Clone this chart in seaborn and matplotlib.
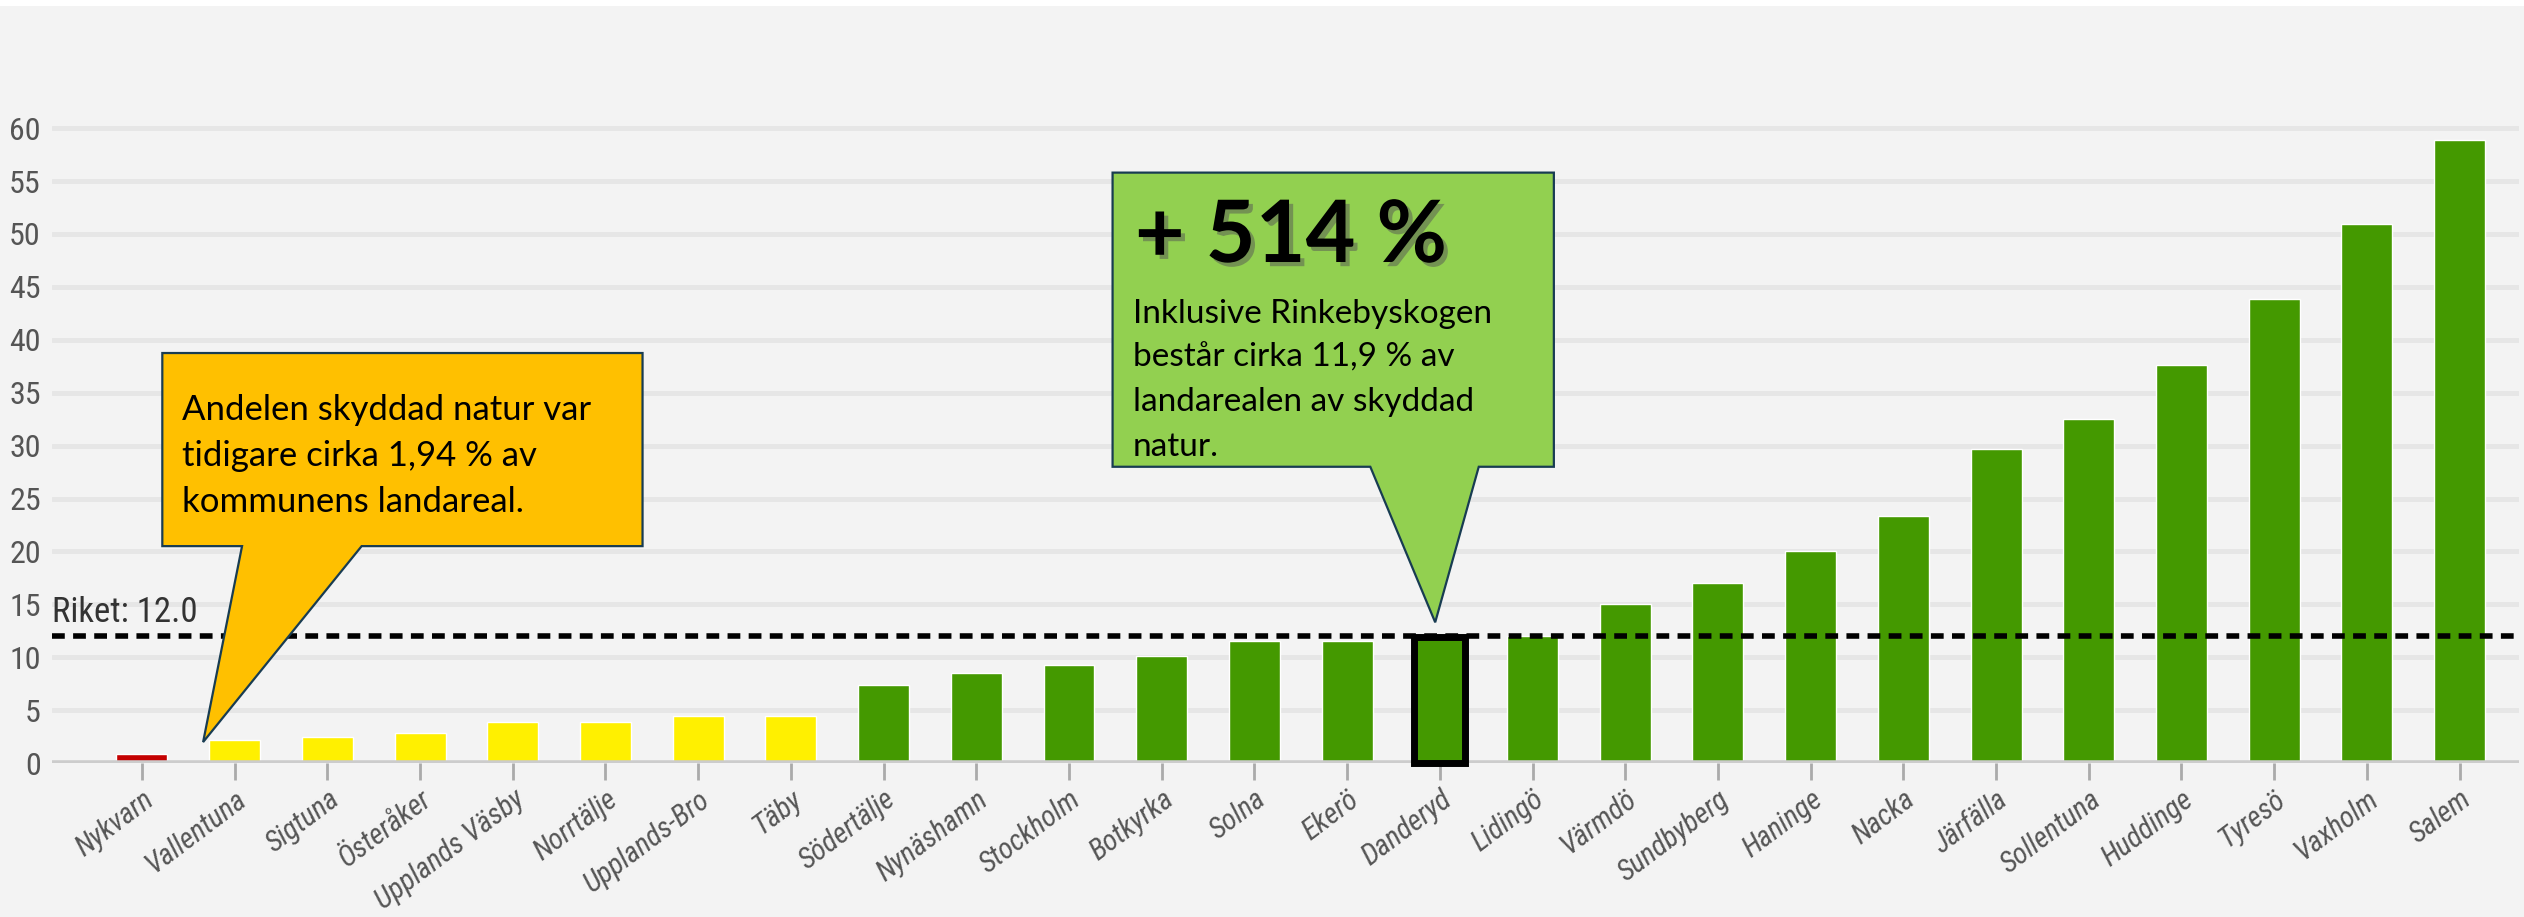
import matplotlib
matplotlib.use('Agg')
import matplotlib.pyplot as plt
import matplotlib.patheffects as pe
from matplotlib.patches import Polygon, Rectangle
import pandas as pd
import seaborn as sns

# andel skyddad natur (% av landarealen) per kommun
kommuner = ['Nykvarn', 'Vallentuna', 'Sigtuna', 'Österåker', 'Upplands Väsby',
            'Norrtälje', 'Upplands-Bro', 'Täby', 'Södertälje', 'Nynäshamn',
            'Stockholm', 'Botkyrka', 'Solna', 'Ekerö', 'Danderyd', 'Lidingö',
            'Värmdö', 'Sundbyberg', 'Haninge', 'Nacka', 'Järfälla',
            'Sollentuna', 'Huddinge', 'Tyresö', 'Vaxholm', 'Salem']
andel = [0.9, 2.2, 2.5, 2.8, 3.9, 3.9, 4.4, 4.4, 7.4, 8.5, 9.3, 10.1, 11.5,
         11.5, 11.9, 12.0, 15.0, 17.0, 20.0, 23.3, 29.7, 32.5, 37.6, 43.9,
         50.9, 58.9]
farger = ['#c40000'] + ['#fff000'] * 7 + ['#449900'] * 18
riket = 12.0
markerad = 'Danderyd'

text_gul = 'Andelen skyddad natur var\ntidigare cirka 1,94 % av\nkommunens landareal.'
text_gron_rubrik = '+ 514 %'
text_gron = 'Inklusive Rinkebyskogen\nbestår cirka 11,9 % av\nlandarealen av skyddad\nnatur.'

df = pd.DataFrame({'kommun': kommuner, 'andel': andel})

sns.set_theme(style='whitegrid', rc={
    'axes.facecolor': '#f3f3f3',
    'figure.facecolor': '#f3f3f3',
    'grid.color': '#e6e6e6',
    'grid.linewidth': 3.5,
})
plt.rcParams['font.family'] = ['Liberation Sans', 'DejaVu Sans']
smal = ['Roboto Condensed', 'Liberation Sans Narrow', 'Roboto']

fig = plt.figure(figsize=(25.24, 9.17), dpi=100)
ax = fig.add_axes([0.0206, 0.1679, 0.9774, 0.7154])

sns.barplot(data=df, x='kommun', y='andel', hue='kommun', palette=farger,
            width=0.55, saturation=1, legend=False, ax=ax)

ax.set_xlim(-0.97, 25.64)
ax.set_ylim(0, 62)
ax.set_yticks(range(0, 65, 5))
ax.set_xlabel('')
ax.set_ylabel('')
ax.set_axisbelow(True)
ax.xaxis.grid(False)
for s in ax.spines.values():
    s.set_visible(False)
ax.axhline(0, color='#cccccc', lw=4, zorder=1.5)

ax.tick_params(axis='y', length=0, pad=8, labelsize=23, labelcolor='#555555')
for lab in ax.get_yticklabels():
    lab.set_family(smal)
ax.tick_params(axis='x', length=12, width=2, color='#aaaaaa', pad=4, bottom=True)
ax.set_xticks(range(len(kommuner)))
ax.set_xticklabels(kommuner, rotation=37, ha='right', rotation_mode='anchor',
                   style='italic', fontsize=21, color='#555555', family=smal)

# riksgenomsnittet
ax.axhline(riket, color='black', lw=4, dashes=(2.3, 1.5), zorder=3)
ax.text(-0.97, riket + 0.7, f'Riket: {riket:.1f}', fontsize=25, color='#333333',
        va='bottom', ha='left', family=smal)

# markera Danderyd
i = kommuner.index(markerad)
for bar in ax.patches:
    if abs(bar.get_x() + bar.get_width() / 2 - i) < 0.01:
        bar.set_edgecolor('black')
        bar.set_linewidth(5)
        bar.set_zorder(4)
        bar.set_clip_on(False)

kant = '#183c52'

# gul pratbubbla
gul = Polygon([(0.22, 38.75), (5.40, 38.75), (5.40, 20.5), (2.37, 20.5),
               (0.66, 1.98), (1.08, 20.5), (0.22, 20.5)], closed=True,
              facecolor='#ffc000', edgecolor=kant, lw=1.6, zorder=5, clip_on=False)
ax.add_patch(gul)
ax.text(0.43, 34.9, text_gul, fontsize=25, family=['Lato', 'DejaVu Sans'],
        color='black', va='top', ha='left', linespacing=1.55, zorder=6)

# grön pratbubbla
gron = Polygon([(10.47, 55.8), (15.23, 55.8), (15.23, 28.0), (14.42, 28.0),
                (i - 0.05, 13.3), (13.25, 28.0), (10.47, 28.0)], closed=True,
               facecolor='#92d050', edgecolor=kant, lw=1.6, zorder=5, clip_on=False)
ax.add_patch(gron)
ax.text(10.71, 53.4, text_gron_rubrik, fontsize=62, weight='bold',
        family=['Lato', 'DejaVu Sans'], color='black', va='top', ha='left', zorder=6,
        path_effects=[pe.withSimplePatchShadow(offset=(3, -3), shadow_rgbFace='#555555', alpha=0.5)])
ax.text(10.69, 43.9, text_gron, fontsize=24, family=['Lato', 'DejaVu Sans'],
        color='black', va='top', ha='left', linespacing=1.6, zorder=6)

# vit remsa överst
fig.patches.append(Rectangle((0, 1 - 6 / 917), 1, 6 / 917, transform=fig.transFigure,
                             facecolor='white', edgecolor='none'))

fig.savefig('out.png', dpi=100, facecolor=fig.get_facecolor())
